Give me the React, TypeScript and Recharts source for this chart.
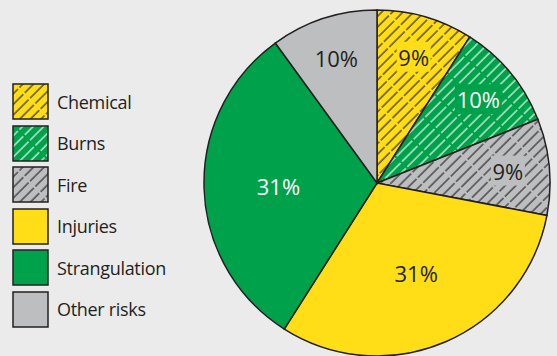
import { PieChart, Pie, Cell } from "recharts";

const categories = ["Chemical", "Burns", "Fire", "Injuries", "Strangulation", "Other risks"];
const shares = [9, 10, 9, 31, 31, 10];

const YELLOW = "#FFDD17";
const GREEN = "#00A14B";
const GREY = "#BCBEC0";
const INK = "#231F20";
const BG = "#EBEBEB";

// hatched slices get a solid patch behind their label, like the print original
const BASE = [YELLOW, GREEN, GREY, YELLOW, GREEN, GREY];
const HATCHED = [true, true, true, false, false, false];
const FILLS = [
  "url(#hatch-yellow)",
  "url(#hatch-green)",
  "url(#hatch-grey)",
  YELLOW,
  GREEN,
  GREY,
];
const LABEL_COLORS = [INK, "#ffffff", INK, INK, "#ffffff", INK];

const FONT = "'Open Sans', 'Noto Sans', sans-serif";

const data = categories.map((name, i) => ({ name, value: shares[i] }));

const RADIAN = Math.PI / 180;

function SliceLabel(props: any) {
  const { cx, cy, midAngle, outerRadius, percent, index } = props;
  const r = outerRadius * (percent < 0.2 ? 0.76 : 0.57);
  const x = cx + r * Math.cos(-midAngle * RADIAN);
  const y = cy + r * Math.sin(-midAngle * RADIAN);
  const text = `${shares[index]}%`;
  const w = text.length * 13 + 8;
  return (
    <g>
      {HATCHED[index] && <rect x={x - w / 2} y={y - 15} width={w} height={30} fill={BASE[index]} />}
      <text
        x={x}
        y={y}
        fill={LABEL_COLORS[index]}
        textAnchor="middle"
        dominantBaseline="central"
        fontSize={22}
        fontFamily={FONT}
      >
        {text}
      </text>
    </g>
  );
}

function HatchPattern({ id, bg, line }: { id: string; bg: string; line: string }) {
  return (
    <pattern id={id} patternUnits="userSpaceOnUse" width={7.5} height={24} patternTransform="rotate(45)">
      <rect width={7.5} height={24} fill={bg} />
      <line x1={1} y1={0} x2={1} y2={24} stroke={line} strokeWidth={1.1} strokeDasharray="22 2" />
    </pattern>
  );
}

function LegendList() {
  return (
    <div style={{ position: "absolute", left: 12, top: 81, fontFamily: FONT }}>
      {categories.map((name, i) => (
        <div key={name} style={{ display: "flex", alignItems: "center", height: 41.5 }}>
          <svg width={37} height={37} style={{ display: "block" }}>
            <rect x={1} y={1} width={35} height={35} fill={FILLS[i]} stroke={INK} strokeWidth={1.5} />
          </svg>
          <span style={{ marginLeft: 8, fontSize: 18, letterSpacing: -0.3, color: INK }}>{name}</span>
        </div>
      ))}
    </div>
  );
}

export default function App() {
  return (
    <div style={{ position: "absolute", left: 0, top: 0, width: 557, height: 356, background: BG }}>
      <PieChart width={557} height={356} margin={{ top: 0, right: 0, bottom: 0, left: 0 }}>
        <defs>
          <HatchPattern id="hatch-yellow" bg={YELLOW} line={INK} />
          <HatchPattern id="hatch-green" bg={GREEN} line="#ffffff" />
          <HatchPattern id="hatch-grey" bg={GREY} line={INK} />
        </defs>
        <Pie
          data={data}
          dataKey="value"
          nameKey="name"
          cx={377}
          cy={183}
          outerRadius={173}
          startAngle={90}
          endAngle={-270}
          labelLine={false}
          label={SliceLabel}
          isAnimationActive={false}
        >
          {data.map((entry, i) => (
            <Cell key={entry.name} fill={FILLS[i]} stroke={INK} strokeWidth={1.5} />
          ))}
        </Pie>
      </PieChart>
      <LegendList />
    </div>
  );
}
